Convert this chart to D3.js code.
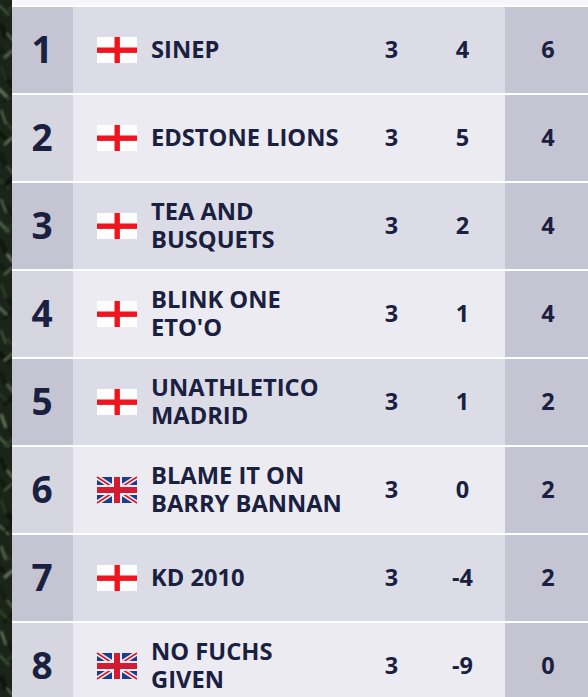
<!DOCTYPE html>
<html><head><meta charset="utf-8">
<style>html,body{margin:0;padding:0;background:#fff;overflow:hidden}svg{display:block}text{font-family:"Open Sans",sans-serif;font-weight:700;fill:#1a2040}</style>
<script src="https://cdnjs.cloudflare.com/ajax/libs/d3/7.8.5/d3.min.js"></script>
</head><body><div id="c"></div>
<script>
const ranks=[1,2,3,4,5,6,7,8];
const teams=[["SINEP"],["EDSTONE LIONS"],["TEA AND","BUSQUETS"],["BLINK ONE","ETO'O"],["UNATHLETICO","MADRID"],["BLAME IT ON","BARRY BANNAN"],["KD 2010"],["NO FUCHS","GIVEN"]];
const flags=["eng","eng","eng","eng","eng","uk","eng","uk"];
const played=[3,3,3,3,3,3,3,3];
const diff=[4,5,2,1,1,0,-4,-9];
const points=[6,4,4,4,2,2,2,0];
const grassY=[4,14,24,33,47,58,66,79,88,101,110,123,131,145,153,166,178,186,199,207,221,232,240,254,263,275,284,298,306,319,330,338,352,361,372,384,392,405,414,427,436,447,458,470,479,491,500,513,524,532,546,555,566,578,587,600,609,622,631,642,654,663,676,688];

const W=588,H=697;
const svg=d3.select("#c").append("svg").attr("width",W).attr("height",H);
const blur=svg.append("defs").append("filter").attr("id","soft").attr("x","-50%").attr("width","200%");
blur.append("feGaussianBlur").attr("stdDeviation",0.8);
const y=d3.scaleLinear().domain([0,1]).range([7,95]);
const rowH=86;

// background: white card over a dark grass strip
svg.append("rect").attr("x",0).attr("y",0).attr("width",12).attr("height",H).attr("fill","#1a2418");
svg.append("g").attr("filter","url(#soft)").selectAll("path").data(grassY).join("path")
  .attr("d",(d,i)=>`M${[-2,4,1,7][i%4]},${d}L${[9,13,6,14][i%4]},${d+[11,-8,14,9][i%4]}`)
  .attr("stroke",(d,i)=>["#4f5f48","#2c3c26","#080e08","#63715a","#101810"][i%5]).attr("stroke-width",(d,i)=>1.8+i%3*.7).attr("fill","none");
svg.append("rect").attr("x",12).attr("y",0).attr("width",W-12).attr("height",H).attr("fill","#fff");
svg.append("rect").attr("x",12).attr("y",0).attr("width",W-12).attr("height",5).attr("fill","#f7f7fa");

const row=svg.selectAll("g.row").data(ranks.map((r,i)=>i)).join("g").attr("class","row")
  .attr("transform",i=>`translate(0,${y(i)})`);
const odd=i=>i%2===0;
row.append("rect").attr("x",12).attr("width",61).attr("height",rowH).attr("fill",i=>odd(i)?"#c4c4d3":"#d6d6e1");
row.append("rect").attr("x",73).attr("width",432).attr("height",rowH).attr("fill",i=>odd(i)?"#dcdce6":"#ecebf2");
row.append("rect").attr("x",505).attr("width",83).attr("height",rowH).attr("fill","#c4c4d3");

const mid=rowH/2;
row.append("text").attr("x",42).attr("y",mid+13).attr("text-anchor","middle").attr("font-size",37).text(i=>ranks[i]);

// flags
const flag=row.append("g").attr("transform",`translate(97,${mid-13})`);
flag.each(function(i){
  const g=d3.select(this);
  const w=40,h=26;
  if(flags[i]==="eng"){
    g.append("rect").attr("width",w).attr("height",h).attr("fill","#fdfdfd");
    g.append("rect").attr("x",17.5).attr("width",5.4).attr("height",h).attr("fill","#f0141e");
    g.append("rect").attr("y",10.5).attr("width",w).attr("height",5.4).attr("fill","#f0141e");
  } else {
    g.append("rect").attr("width",w).attr("height",h).attr("fill","#1c3c8c");
    const diag=[[0,0,w,h],[w,0,0,h]];
    g.selectAll("line.w").data(diag).join("line").attr("x1",d=>d[0]).attr("y1",d=>d[1]).attr("x2",d=>d[2]).attr("y2",d=>d[3]).attr("stroke","#f4eef0").attr("stroke-width",5);
    g.selectAll("line.r").data(diag).join("line").attr("class","r").attr("x1",d=>d[0]).attr("y1",d=>d[1]).attr("x2",d=>d[2]).attr("y2",d=>d[3]).attr("stroke","#d01c34").attr("stroke-width",1.6);
    g.append("rect").attr("x",15).attr("width",10).attr("height",h).attr("fill","#f4eef0");
    g.append("rect").attr("y",8).attr("width",w).attr("height",10).attr("fill","#f4eef0");
    g.append("rect").attr("x",17).attr("width",6).attr("height",h).attr("fill","#d01c34");
    g.append("rect").attr("y",10).attr("width",w).attr("height",6).attr("fill","#d01c34");
  }
});

// team names
const name=row.append("text").attr("font-size",23.7);
name.each(function(i){
  const lines=teams[i],sel=d3.select(this);
  lines.forEach((t,k)=>{
    sel.append("tspan").attr("x",151).attr("y",mid+8+(k-(lines.length-1)/2)*28).text(t);
  });
});

const col=(x,arr)=>row.append("text").attr("x",x).attr("y",mid+8).attr("text-anchor","middle").attr("font-size",23.5).text(i=>arr[i]);
col(391.5,played);
col(462.5,diff);
col(548,points);
</script></body></html>
